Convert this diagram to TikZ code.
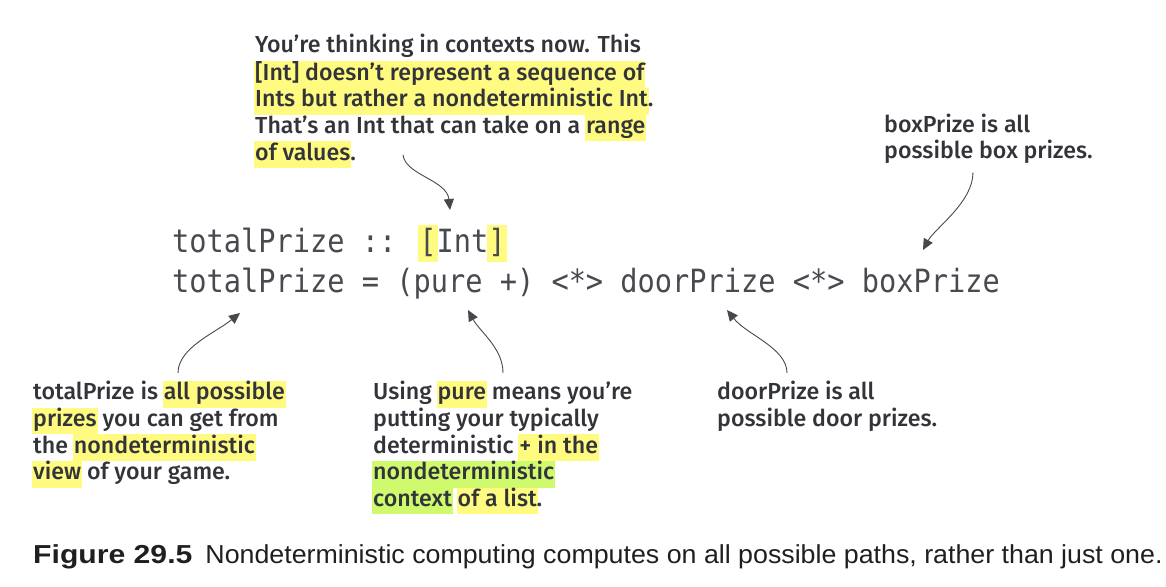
\documentclass[tikz,border=0pt]{standalone}
\usepackage{fontspec}
\usepackage{xcolor}
\setmainfont{Fira Sans Medium}
\newfontfamily\codefont[FakeStretch=0.895]{DejaVu Sans Mono}
\newfontfamily\capfont[FakeStretch=1.03]{Liberation Sans}
\newfontfamily\figfont[FakeStretch=1.16]{Liberation Sans}
\usetikzlibrary{arrows.meta}

\definecolor{ink}{RGB}{50,52,58}
\definecolor{codeink}{RGB}{72,74,80}
\definecolor{hly}{RGB}{255,250,128}
\definecolor{hlg}{RGB}{208,250,110}

% highlighter pens
\newcommand{\hlY}[1]{\kern-1pt\relax{\setlength{\fboxsep}{0pt}\colorbox{hly}{\kern1pt\relax\strut #1\kern1pt\relax}}\kern-1pt\relax}
\newcommand{\hlG}[1]{\kern-1pt\relax{\setlength{\fboxsep}{0pt}\colorbox{hlg}{\kern1pt\relax\strut #1\kern1pt\relax}}\kern-1pt\relax}
\newcommand{\hlB}[1]{\kern-1.5pt\relax{\setlength{\fboxsep}{0pt}\colorbox{hly}{\kern1.5pt\relax\rule[-10pt]{0pt}{37pt}#1\kern1.5pt\relax}}\kern-1.5pt\relax}

\begin{document}
\begin{tikzpicture}[
    x=1pt, y=-1pt,
    note/.style   ={anchor=north west, inner sep=0pt, align=left, text=ink,
                    font=\fontsize{23.2}{26.6}\selectfont},
    code/.style   ={anchor=base west, inner sep=0pt, text=codeink,
                    font=\codefont\fontsize{32}{40}\selectfont},
    pointer/.style={-{Triangle[length=11pt,width=10pt]}, line width=0.9pt, draw=ink!90}
]
\useasboundingbox (0,0) rectangle (1166,586);

% =================== Code ===================
\node[code] (sigLine) at (172,252) {totalPrize :: \hlB{[}Int\hlB{]}};
\node[code] (defLine) at (172,292) {totalPrize = (pure +) <*> doorPrize <*> boxPrize};

% =================== Notes ===================
\node[note] (ctxNote) at (255,33.4)
    {\strut You’re thinking in contexts now. This\\
     \hlY{[Int] doesn’t represent a sequence of}\\
     \hlY{Ints but rather a nondeterministic Int}.\\
     \strut That’s an Int that can take on a \hlY{range}\\
     \hlY{of values}.};

\node[note] (boxNote) at (884,113.4)
    {\strut boxPrize is all\\ \strut possible box prizes.};

\node[note] (totalNote) at (33,381)
    {\strut totalPrize is \hlY{all possible}\\
     \hlY{prizes} you can get from\\
     \strut the \hlY{nondeterministic}\\
     \hlY{view} of your game.};

\node[note] (pureNote) at (373,381)
    {\strut Using \hlY{pure} means you’re\\
     \strut putting your typically\\
     \strut deterministic \hlY{+ in the}\\
     \hlG{nondeterministic}\\
     \hlG{context} \hlY{of a list}.};

\node[note] (doorNote) at (717,381)
    {\strut doorPrize is all\\ \strut possible door prizes.};

% =================== Caption ===================
\node[anchor=base west, inner sep=0pt, text=black!88] (figCap) at (33,563)
    {\fontsize{26}{30}\selectfont{\figfont\bfseries Figure 29.5}\hspace{13pt}{\capfont Nondeterministic computing computes on all possible paths, rather than just one.}};

% --- pointer tips ---
\coordinate (intTip)   at (450,210);
\coordinate (boxTip)   at (923,250);
\coordinate (totalTip) at (240,313);
\coordinate (pureTip)  at (468,310);
\coordinate (doorTip)  at (727,310);

% --- Arrows ---
\draw[pointer] ([xshift=148pt,yshift=13.4pt]ctxNote.south west)
    .. controls +(2,20) and +(-3,-30) .. (intTip);
\draw[pointer] ([xshift=89pt,yshift=-5.4pt]boxNote.south west)
    .. controls +(0,30) and +(12,-22) .. (boxTip);
\draw[pointer] ([xshift=145pt,yshift=8pt]totalNote.north west)
    .. controls +(0,-25) and +(-25,20) .. (totalTip);
\draw[pointer] ([xshift=130pt,yshift=8pt]pureNote.north west)
    .. controls +(0,-25) and +(12,22) .. (pureTip);
\draw[pointer] ([xshift=70pt,yshift=8pt]doorNote.north west)
    .. controls +(0,-25) and +(20,25) .. (doorTip);

\end{tikzpicture}
\end{document}
